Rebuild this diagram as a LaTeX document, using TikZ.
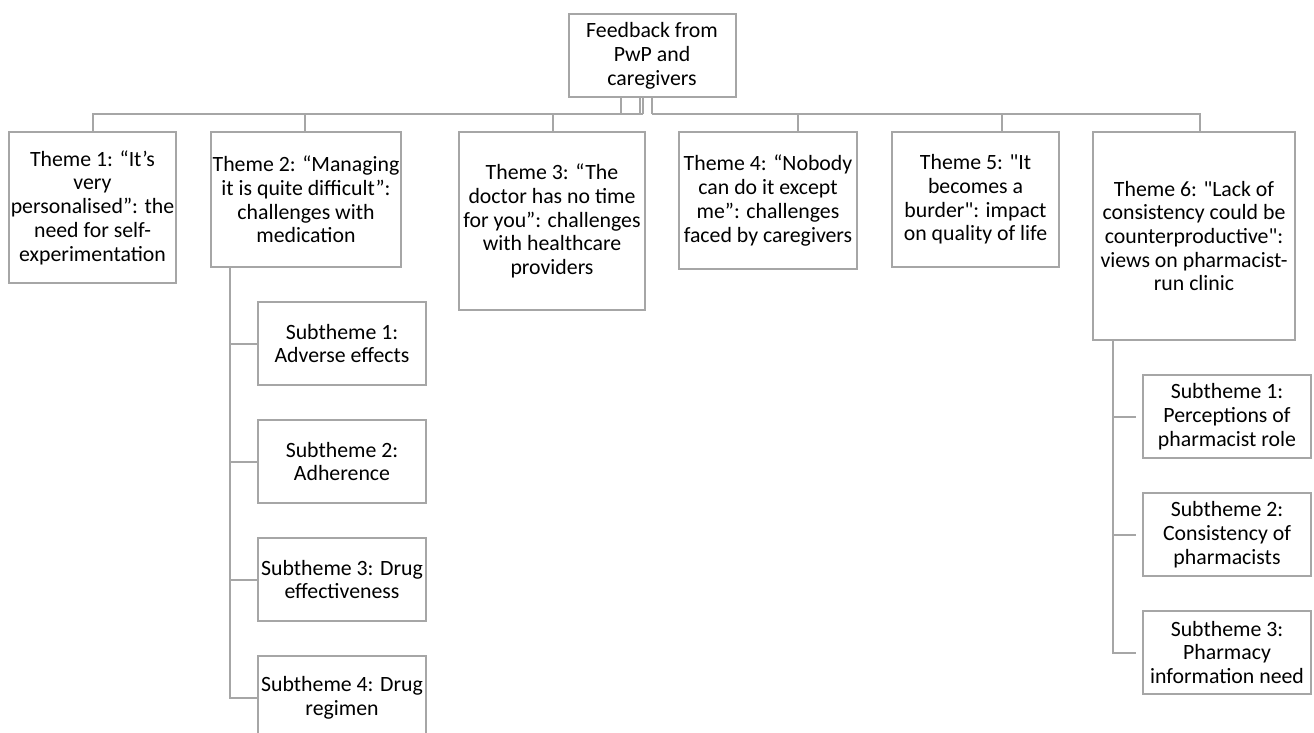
\documentclass[tikz,border=0pt]{standalone}
\usepackage{fontspec}
\setmainfont{Carlito}[Ligatures=TeXOff]
\definecolor{ln}{RGB}{166,166,166}
\begin{document}
\begin{tikzpicture}[x=1pt,y=-1pt,
  box/.style={draw=ln, line width=2pt, fill=white, align=center, inner sep=0pt,
    font=\fontsize{21.8}{23.7}\selectfont},
  sub/.style={box, minimum width=168pt, minimum height=83pt},
  conn/.style={draw=ln, line width=2pt}]
\useasboundingbox (0,0) rectangle (1314,733);
\clip (0,0) rectangle (1314,733);
% top
\node[box, minimum width=167pt, minimum height=83pt] (root) at (652,56) {Feedback from\\PwP and\\caregivers};
\node[box, minimum width=167pt, minimum height=151pt] (t1) at (92.5,207.5) {Theme 1: “It’s\\very\\personalised”: the\\need for self-\\experimentation};
\node[box, minimum width=190pt, minimum height=135pt] (t2) at (306,199.5) {Theme 2: “Managing\\it is quite difficult”:\\challenges with\\medication};
\node[box, minimum width=186pt, minimum height=178pt] (t3) at (552,221) {Theme 3: “The\\doctor has no time\\for you”: challenges\\with healthcare\\providers};
\node[box, minimum width=178pt, minimum height=137pt] (t4) at (768,200.5) {Theme 4: “Nobody\\can do it except\\me”: challenges\\faced by caregivers};
\node[box, minimum width=167pt, minimum height=135pt] (t5) at (975.5,199.5) {Theme 5: "It\\becomes a\\burder": impact\\on quality of life};
\node[box, minimum width=202pt, minimum height=208pt] (t6) at (1194,236) {Theme 6: "Lack of\\consistency could be\\counterproductive":\\views on pharmacist-\\run clinic};
% subthemes of theme 2
\node[sub] (a1) at (342,343.5) {Subtheme 1:\\Adverse effects};
\node[sub] (a2) at (342,461.5) {Subtheme 2:\\Adherence};
\node[sub] (a3) at (342,579.5) {Subtheme 3: Drug\\effectiveness};
\node[sub] (a4) at (342,697.5) {Subtheme 4: Drug\\regimen};
% subthemes of theme 6
\node[sub] (b1) at (1227,416.5) {Subtheme 1:\\Perceptions of\\pharmacist role};
\node[sub] (b2) at (1227,534.5) {Subtheme 2:\\Consistency of\\pharmacists};
\node[sub] (b3) at (1227,652.5) {Subtheme 3:\\Pharmacy\\information need};
% bus coordinates
\coordinate (j1) at (93,114);
\coordinate (j2) at (305,114);
\coordinate (j3) at (553,114);
\coordinate (j4) at (798,114);
\coordinate (j5) at (1002,114);
\coordinate (j6) at (1200,114);
\coordinate (jl) at (643,114);
\coordinate (jr) at (652,114);
\coordinate (r1) at (621,114);
\coordinate (r2) at (640,114);
\coordinate (s2) at (230,0);
\coordinate (s6) at (1113,0);
% connectors from root
\draw[conn] (r1 |- root.south) -- (r1);
\draw[conn] (r2 |- root.south) -- (r2);
\draw[conn] (jl |- root.south) -- (jl);
\draw[conn] (jr |- root.south) -- (jr);
\draw[conn] (j1 |- t1.north) |- (jl);
\draw[conn] (j6 |- t6.north) |- (jr);
\draw[conn] (j2) -- (j2 |- t2.north);
\draw[conn] (j3) -- (j3 |- t3.north);
\draw[conn] (j4) -- (j4 |- t4.north);
\draw[conn] (j5) -- (j5 |- t5.north);
% theme 2 spine
\draw[conn] (s2 |- t2.south) |- (a4.west);
\draw[conn] (s2 |- a1.west) -- (a1.west);
\draw[conn] (s2 |- a2.west) -- (a2.west);
\draw[conn] (s2 |- a3.west) -- (a3.west);
% theme 6 spine
\draw[conn, shorten >=6pt] (s6 |- t6.south) |- (b3.west);
\draw[conn, shorten >=6pt] (s6 |- b1.west) -- (b1.west);
\draw[conn, shorten >=6pt] (s6 |- b2.west) -- (b2.west);
\end{tikzpicture}
\end{document}
